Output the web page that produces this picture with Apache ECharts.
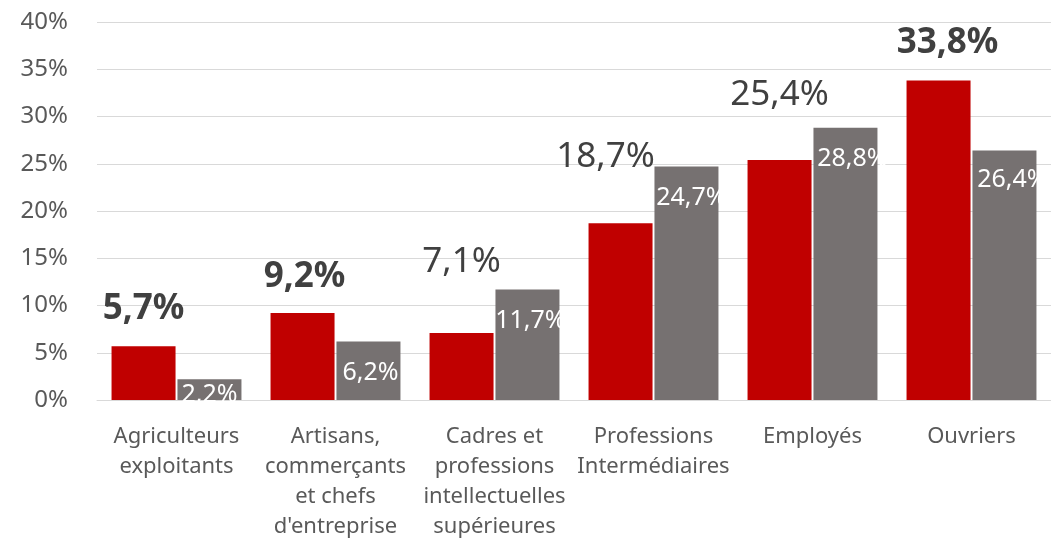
<!DOCTYPE html>
<html lang="fr">
<head>
    <meta charset="UTF-8">
    <title>Répartition par catégorie socioprofessionnelle</title>
    <script src="https://cdn.jsdelivr.net/npm/echarts@6/dist/echarts.min.js"></script>
    <style>
        html, body { margin: 0; padding: 0; background: #fff; }
        #main { width: 1051px; height: 542px; }
    </style>
</head>
<body>
<div id="main"></div>
<script type="text/javascript">
    // données
    var categories = [
        'Agriculteurs\nexploitants',
        'Artisans,\ncommerçants\net chefs\nd\'entreprise',
        'Cadres et\nprofessions\nintellectuelles\nsupérieures',
        'Professions\nIntermédiaires',
        'Employés',
        'Ouvriers'
    ];
    var redValues = [5.7, 9.2, 7.1, 18.7, 25.4, 33.8];
    var greyValues = [2.2, 6.2, 11.7, 24.7, 28.8, 26.4];
    var yTicks = [0, 5, 10, 15, 20, 25, 30, 35, 40];

    // étiquettes en gras pour la série rouge
    var boldRed = [true, true, false, false, false, true];
    // décalages des étiquettes (placement manuel dans l'original)
    var redLabelShift = [[0, -19], [2, -18], [0, -53], [-15, -48], [0, -47], [9, -20]];
    var greyLabelShift = [[0, -16], [2, 0], [3, 0], [5, 0], [7, 0], [8, -2]];

    function fmt(v) {
        return v.toFixed(1).replace('.', ',') + '%';
    }

    var FONT = '"Noto Sans", "Open Sans", sans-serif';

    var redData = redValues.map(function (v, i) {
        return {
            value: v,
            label: {
                fontWeight: boldRed[i] ? 'bold' : 'normal',
                offset: redLabelShift[i]
            }
        };
    });
    var greyData = greyValues.map(function (v, i) {
        return {
            value: v,
            label: { offset: greyLabelShift[i] }
        };
    });

    var myChart = echarts.init(document.getElementById('main'));

    var option = {
        backgroundColor: '#fff',
        animation: false,
        grid: {
            left: 97,
            right: 0,
            top: 22,
            bottom: 141,
            containLabel: false
        },
        xAxis: {
            type: 'category',
            data: categories,
            axisTick: { show: false },
            axisLine: { lineStyle: { color: '#d9d9d9', width: 1 } },
            axisLabel: {
                interval: 0,
                color: '#595959',
                fontFamily: FONT,
                fontSize: 22,
                lineHeight: 30,
                margin: 22
            }
        },
        yAxis: {
            type: 'value',
            min: yTicks[0],
            max: yTicks[yTicks.length - 1],
            interval: yTicks[1] - yTicks[0],
            axisLine: { show: false },
            axisTick: { show: false },
            splitLine: { lineStyle: { color: '#d9d9d9', width: 1 } },
            axisLabel: {
                formatter: '{value}%',
                color: '#595959',
                fontFamily: FONT,
                fontSize: 24,
                margin: 29
            }
        },
        series: [
            {
                type: 'bar',
                data: redData,
                barWidth: 64,
                barGap: '3%',
                itemStyle: { color: '#C00000' },
                label: {
                    show: true,
                    position: 'top',
                    distance: 0,
                    color: '#404040',
                    fontFamily: FONT,
                    fontSize: 35,
                    lineHeight: 36,
                    formatter: function (p) { return fmt(p.value); }
                }
            },
            {
                type: 'bar',
                data: greyData,
                barWidth: 64,
                itemStyle: { color: '#767171' },
                label: {
                    show: true,
                    position: 'insideTop',
                    distance: 19,
                    color: '#ffffff',
                    fontFamily: FONT,
                    fontSize: 25,
                    lineHeight: 25,
                    formatter: function (p) { return fmt(p.value); }
                }
            }
        ]
    };

    myChart.setOption(option);
</script>
</body>
</html>
